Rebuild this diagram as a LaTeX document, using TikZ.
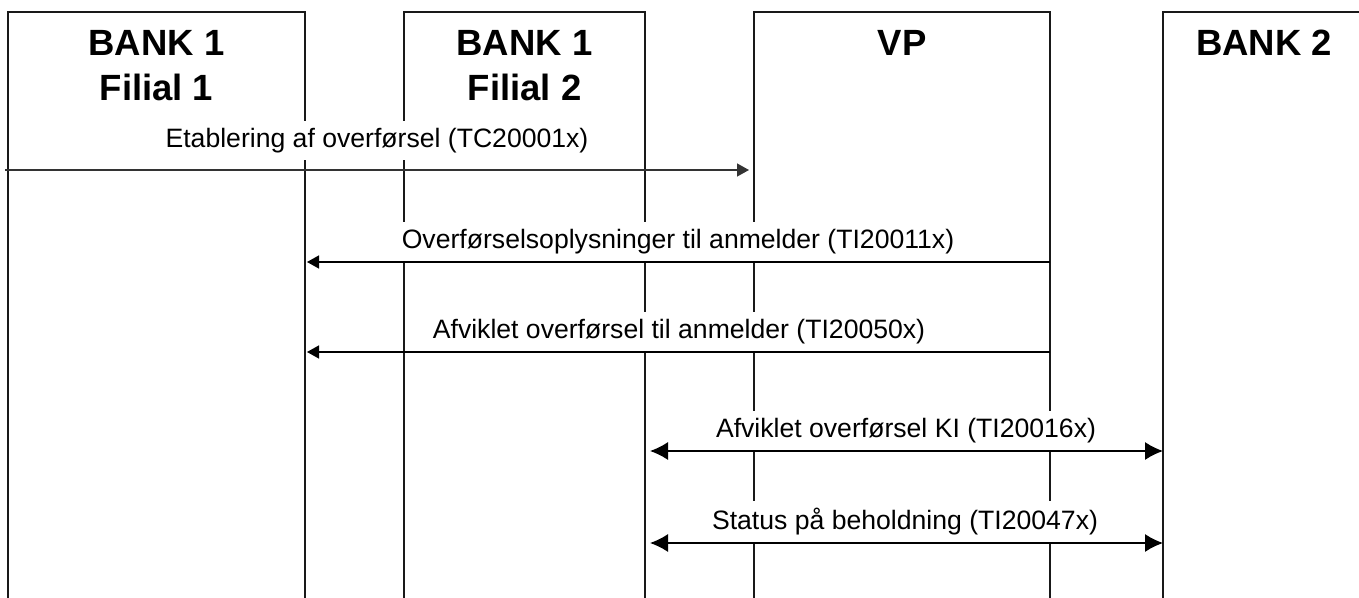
\documentclass[tikz,border=0pt]{standalone}
\usepackage{fontspec}
\setmainfont{Liberation Sans}
\usetikzlibrary{arrows.meta}
\tikzset{
  lane/.style={line width=1.8pt, black!90},
  head/.style={anchor=base, inner sep=0pt, font=\fontsize{36.5}{42}\selectfont\bfseries},
  msg/.style={line width=1.4pt, black},
  tipR/.style={-{Triangle[length=12pt,width=13pt]}},
  tipLR/.style={{Latex[length=18pt,width=18pt]}-{Latex[length=18pt,width=18pt]}},
  lbl/.style={anchor=base, fill=white, inner xsep=1pt, inner ysep=7pt, font=\fontsize{26.6}{32}\selectfont}
}
\begin{document}
\begin{tikzpicture}[x=1pt,y=-1pt]
\useasboundingbox (0,0) rectangle (1359,597);
% lanes (boxes open at the bottom)
\draw[lane] (8,610) |- (305,12) -- (305,610);
\draw[lane] (404,610) |- (645,12) -- (645,610);
\draw[lane] (754,610) |- (1050,12) -- (1050,610);
\draw[lane] (1163,610) |- (1370,12) -- (1370,610);
% headers
\node[head] (h1a) at (156.5,55) {BANK 1};
\node[head] (h1b) at (156.5,100) {Filial 1};
\node[head] (h2a) at (524.5,55) {BANK 1};
\node[head] (h2b) at (524.5,100) {Filial 2};
\node[head] (h3) at (902,55) {VP};
\node[head] (h4) at (1264,55) {BANK 2};
% message end points
\coordinate (m1s) at (5,170);   \coordinate (m1e) at (749,170);
\coordinate (m2s) at (1050,262); \coordinate (m2e) at (307,262);
\coordinate (m3s) at (1050,352); \coordinate (m3e) at (307,352);
\coordinate (m4s) at (650,451); \coordinate (m4e) at (1163,451);
\coordinate (m5s) at (650,543); \coordinate (m5e) at (1163,543);
% messages
\draw[msg, tipR, black!80] (m1s) -- (m1e);
\draw[msg, tipR] (m2s) -- (m2e);
\draw[msg, tipR] (m3s) -- (m3e);
\draw[msg, tipLR] (m4s) -- (m4e);
\draw[msg, tipLR] (m5s) -- (m5e);
% labels
\node[lbl] (l1) at (377,147) {Etablering af overførsel (TC20001x)};
\node[lbl] (l2) at (678,248) {Overførselsoplysninger til anmelder (TI20011x)};
\node[lbl] (l3) at (679,338) {Afviklet overførsel til anmelder (TI20050x)};
\node[lbl] (l4) at (906,437) {Afviklet overførsel KI (TI20016x)};
\node[lbl] (l5) at (905,529) {Status på beholdning (TI20047x)};
\end{tikzpicture}
\end{document}
